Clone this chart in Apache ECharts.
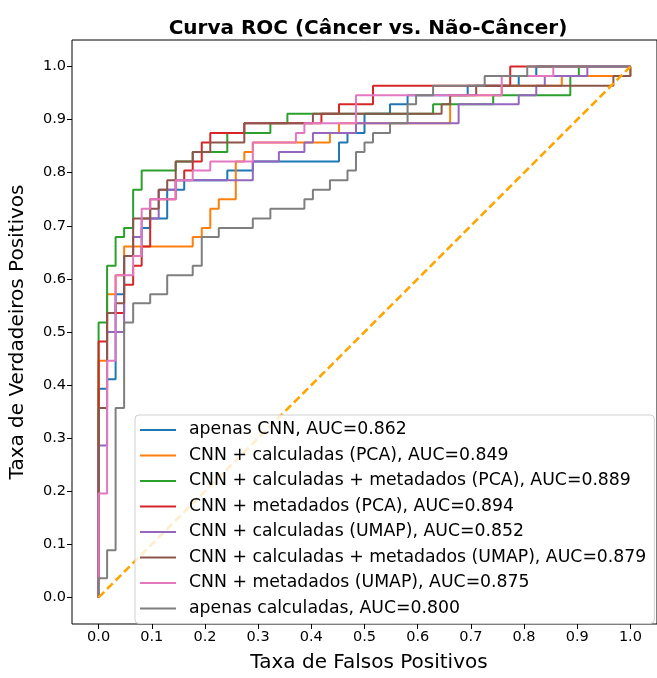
<!DOCTYPE html>
<html>
<head>
<meta charset="utf-8">
<script src="https://cdn.jsdelivr.net/npm/echarts@6/dist/echarts.min.js"></script>
<style>
  html, body { margin: 0; padding: 0; background: #fff; }
  #rocChart { width: 657px; height: 678px; }
</style>
</head>
<body>
<div id="rocChart"></div>
<script>
// curvas ROC (fpr = taxa de falsos positivos, tpr = taxa de verdadeiros positivos)
var nomes = [
  'apenas CNN, AUC=0.862',
  'CNN + calculadas (PCA), AUC=0.849',
  'CNN + calculadas + metadados (PCA), AUC=0.889',
  'CNN + metadados (PCA), AUC=0.894',
  'CNN + calculadas (UMAP), AUC=0.852',
  'CNN + calculadas + metadados (UMAP), AUC=0.879',
  'CNN + metadados (UMAP), AUC=0.875',
  'apenas calculadas, AUC=0.800'
];
var cores = ['#1f77b4','#ff7f0e','#2ca02c','#d62728','#9467bd','#8c564b','#e377c2','#7f7f7f'];

var fprCnn = [0,0,0.016,0.016,0.032,0.032,0.048,0.048,0.081,0.081,0.097,0.097,0.129,0.129,0.161,0.161,0.242,0.242,0.29,0.29,0.452,0.452,0.468,0.468,0.5,0.5,0.548,0.548,0.581,0.581,0.694,0.694,0.79,0.79,0.823,0.823,1];
var tprCnn = [0,0.393,0.393,0.411,0.411,0.571,0.571,0.643,0.643,0.696,0.696,0.714,0.714,0.768,0.768,0.786,0.786,0.804,0.804,0.821,0.821,0.857,0.857,0.875,0.875,0.911,0.911,0.929,0.929,0.946,0.946,0.964,0.964,0.982,0.982,1,1];

var fprCalcPca = [0,0,0.016,0.016,0.032,0.032,0.048,0.048,0.177,0.177,0.194,0.194,0.21,0.21,0.226,0.226,0.258,0.258,0.274,0.274,0.29,0.29,0.435,0.435,0.452,0.452,0.661,0.661,0.758,0.758,0.871,0.871,1,1];
var tprCalcPca = [0,0.446,0.446,0.571,0.571,0.607,0.607,0.661,0.661,0.679,0.679,0.696,0.696,0.732,0.732,0.75,0.75,0.821,0.821,0.839,0.839,0.857,0.857,0.875,0.875,0.893,0.893,0.946,0.946,0.964,0.964,0.982,0.982,1];

var fprCalcMetaPca = [0,0,0.016,0.016,0.032,0.032,0.048,0.048,0.065,0.065,0.081,0.081,0.145,0.145,0.177,0.177,0.242,0.242,0.323,0.323,0.355,0.355,0.629,0.629,0.742,0.742,0.887,0.887,0.903,0.903,1];
var tprCalcMetaPca = [0,0.518,0.518,0.625,0.625,0.679,0.679,0.696,0.696,0.768,0.768,0.804,0.804,0.821,0.821,0.839,0.839,0.875,0.875,0.893,0.893,0.911,0.911,0.929,0.929,0.946,0.946,0.982,0.982,1,1];

var fprMetaPca = [0,0,0.016,0.016,0.048,0.048,0.065,0.065,0.081,0.081,0.097,0.097,0.145,0.145,0.161,0.161,0.177,0.177,0.194,0.194,0.21,0.21,0.274,0.274,0.419,0.419,0.452,0.452,0.516,0.516,0.774,0.774,1];
var tprMetaPca = [0,0.482,0.482,0.536,0.536,0.589,0.589,0.625,0.625,0.661,0.661,0.75,0.75,0.786,0.786,0.804,0.804,0.821,0.821,0.857,0.857,0.875,0.875,0.893,0.893,0.911,0.911,0.929,0.929,0.964,0.964,1,1];

var fprCalcUmap = [0,0,0.016,0.016,0.048,0.048,0.065,0.065,0.081,0.081,0.113,0.113,0.145,0.145,0.29,0.29,0.339,0.339,0.387,0.387,0.403,0.403,0.484,0.484,0.677,0.677,0.79,0.79,0.823,0.823,0.839,0.839,0.919,0.919,1];
var tprCalcUmap = [0,0.286,0.286,0.5,0.5,0.643,0.643,0.679,0.679,0.714,0.714,0.768,0.768,0.786,0.786,0.821,0.821,0.839,0.839,0.857,0.857,0.875,0.875,0.893,0.893,0.929,0.929,0.946,0.946,0.964,0.964,0.982,0.982,1,1];

var fprCalcMetaUmap = [0,0,0.016,0.016,0.032,0.032,0.048,0.048,0.065,0.065,0.097,0.097,0.113,0.113,0.129,0.129,0.145,0.145,0.177,0.177,0.21,0.21,0.274,0.274,0.403,0.403,0.645,0.645,0.661,0.661,0.71,0.71,0.968,0.968,1,1];
var tprCalcMetaUmap = [0,0.357,0.357,0.536,0.536,0.554,0.554,0.643,0.643,0.714,0.714,0.732,0.732,0.768,0.768,0.786,0.786,0.821,0.821,0.839,0.839,0.857,0.857,0.893,0.893,0.911,0.911,0.929,0.929,0.946,0.946,0.964,0.964,0.982,0.982,1];

var fprMetaUmap = [0,0,0.016,0.016,0.032,0.032,0.065,0.065,0.081,0.081,0.097,0.097,0.145,0.145,0.177,0.177,0.21,0.21,0.29,0.29,0.371,0.371,0.387,0.387,0.484,0.484,0.758,0.758,0.855,0.855,1];
var tprMetaUmap = [0,0.196,0.196,0.446,0.446,0.607,0.607,0.643,0.643,0.732,0.732,0.75,0.75,0.786,0.786,0.804,0.804,0.821,0.821,0.857,0.857,0.875,0.875,0.893,0.893,0.946,0.946,0.982,0.982,1,1];

var fprCalc = [0,0,0.016,0.016,0.032,0.032,0.048,0.048,0.065,0.065,0.097,0.097,0.129,0.129,0.177,0.177,0.194,0.194,0.226,0.226,0.29,0.29,0.323,0.323,0.387,0.387,0.403,0.403,0.435,0.435,0.468,0.468,0.484,0.484,0.5,0.5,0.516,0.516,0.548,0.548,0.581,0.581,0.597,0.597,0.629,0.629,0.726,0.726,0.806,0.806,1];
var tprCalc = [0,0.036,0.036,0.089,0.089,0.357,0.357,0.518,0.518,0.554,0.554,0.571,0.571,0.607,0.607,0.625,0.625,0.679,0.679,0.696,0.696,0.714,0.714,0.732,0.732,0.75,0.75,0.768,0.768,0.786,0.786,0.804,0.804,0.839,0.839,0.857,0.857,0.875,0.875,0.893,0.893,0.929,0.929,0.946,0.946,0.964,0.964,0.982,0.982,1,1];

// linha de referencia (classificador aleatorio)
var diagX = [0, 1];
var diagY = [0, 1];

var ticks = [0,0.1,0.2,0.3,0.4,0.5,0.6,0.7,0.8,0.9,1.0];

var curvasFpr = [fprCnn, fprCalcPca, fprCalcMetaPca, fprMetaPca, fprCalcUmap, fprCalcMetaUmap, fprMetaUmap, fprCalc];
var curvasTpr = [tprCnn, tprCalcPca, tprCalcMetaPca, tprMetaPca, tprCalcUmap, tprCalcMetaUmap, tprMetaUmap, tprCalc];

function pares(xs, ys){
  var d = [];
  for(var i = 0; i < xs.length; i++){
    d.push([xs[i], ys[i]]);
  }
  return d;
}

var fonte = 'DejaVu Sans';
var series = [];
for(var a = 0; a < nomes.length; a++){
  series.push({
    name: nomes[a],
    type: 'line',
    data: pares(curvasFpr[a], curvasTpr[a]),
    symbol: 'none',
    showSymbol: false,
    color: cores[a],
    lineStyle: {color: cores[a], width: 2},
    silent: true
  });
}
series.push({
  name: 'diagonal',
  type: 'line',
  data: pares(diagX, diagY),
  symbol: 'none',
  lineStyle: {color: '#ffa500', width: 2.6, type: [8, 4]},
  silent: true
});

var chart = echarts.init(document.getElementById('rocChart'));
var eixo = function(nome, gap, rot, pad){
  return {
    type: 'value', min: -0.05, max: 1.05,
    name: nome, nameLocation: 'middle', nameGap: gap, nameRotate: rot,
    nameTextStyle: {fontFamily: fonte, fontSize: 20, color: '#000', padding: pad},
    splitLine: {show: false},
    axisLine: {show: false, onZero: false},
    axisTick: {show: true, customValues: ticks, length: 5, lineStyle: {color: '#000'}},
    axisLabel: {customValues: ticks, formatter: function(v){ return v.toFixed(1); },
      fontFamily: fonte, fontSize: 14.5, color: '#000', margin: 6}
  };
};
var option = {
  animation: false,
  backgroundColor: '#fff',
  title: {
    text: 'Curva ROC (Câncer vs. Não-Câncer)',
    left: 363, top: 14, textAlign: 'center',
    textStyle: {fontFamily: fonte, fontSize: 20, fontWeight: 'bold', color: '#000'}
  },
  grid: {left: 68, top: 40, width: 594, height: 592, show: true, borderColor: '#000', borderWidth: 1, containLabel: false},
  xAxis: eixo('Taxa de Falsos Positivos', 29, 0, [0, 0, 0, 9]),
  yAxis: eixo('Taxa de Verdadeiros Positivos', 44, 90, [0, 0, 0, 0]),
  legend: {
    data: nomes,
    orient: 'vertical',
    left: 135, top: 415,
    padding: [5, 8, 5, 5],
    icon: 'rect',
    itemWidth: 36, itemHeight: 2, itemGap: 5.5,
    backgroundColor: 'rgba(255,255,255,0.8)',
    borderColor: '#d0d0d0', borderWidth: 1, borderRadius: 4,
    textStyle: {fontFamily: fonte, fontSize: 17.3, lineHeight: 20, color: '#000', padding: [0, 0, 0, 8]},
    selectedMode: false
  },
  series: series
};
chart.setOption(option);
</script>
</body>
</html>
